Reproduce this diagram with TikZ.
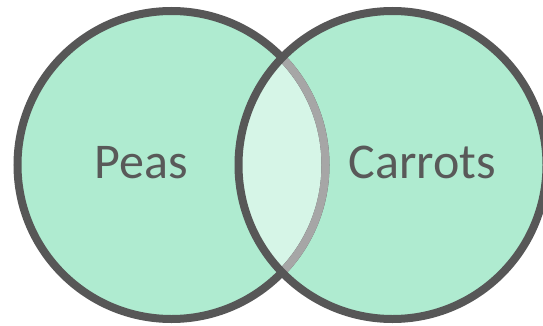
\documentclass[tikz,border=0pt]{standalone}
\usepackage{fontspec}
\setmainfont{Carlito}
\definecolor{mint}{HTML}{AFEBD0}
\definecolor{lensc}{HTML}{D6F5E7}
\definecolor{rim}{HTML}{575757}
\definecolor{rimlight}{HTML}{A6A6A6}
\definecolor{txt}{HTML}{595959}
\tikzset{
  rimline/.style={draw=rim, line width=8pt},
  lightrim/.style={draw=rimlight, line width=8pt},
  label/.style={text=txt, font=\fontsize{50}{60}\selectfont, anchor=base, inner sep=0pt},
}
\begin{document}
\begin{tikzpicture}[x=1pt,y=1pt]
\useasboundingbox (0,0) rectangle (543,325);
\coordinate (C1) at (171.5,160);
\coordinate (C2) at (392.5,160);
% fills
\fill[mint] (C1) circle[radius=154pt];
\fill[mint] (C2) circle[radius=154pt];
\begin{scope}
  \clip (C1) circle[radius=154pt];
  \fill[lensc] (C2) circle[radius=154pt];
\end{scope}
% outlines
\draw[rimline] (C1) circle[radius=154pt];
\draw[lightrim] ([shift={(-44.15:154pt)}]C1) arc[start angle=-44.15, end angle=44.15, radius=154pt];
\draw[rimline] (C2) circle[radius=154pt];
% labels
\node[label] (peas) at (141.5,147) {Peas};
\node[label] (carrots) at (422.5,147) {Carrots};
\end{tikzpicture}
\end{document}
